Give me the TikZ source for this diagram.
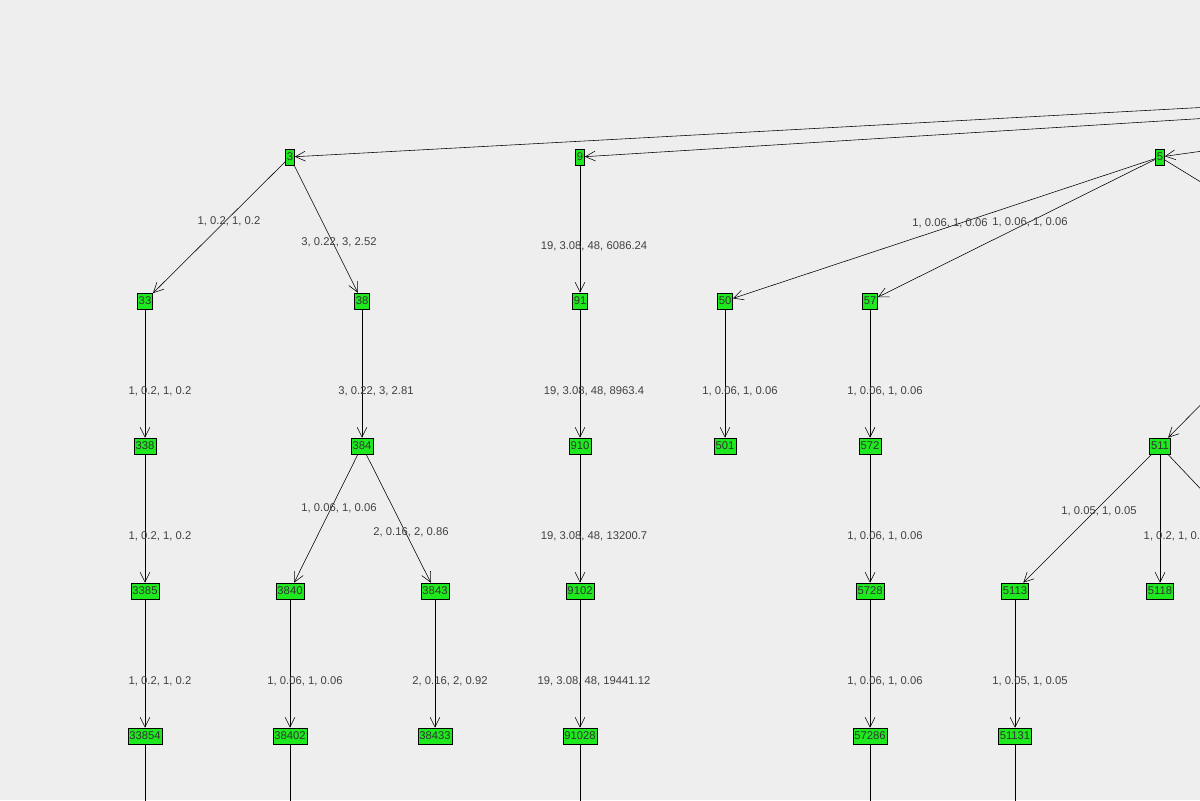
\documentclass[tikz,border=0pt]{standalone}
\usepackage{fontspec}
\setmainfont{Liberation Sans}
\usetikzlibrary{arrows.meta}
\definecolor{bgcol}{HTML}{EEEEEE}
\definecolor{nodegreen}{HTML}{1EE81E}
\begin{document}
\begin{tikzpicture}[x=0.025cm, y=-0.025cm,
	vert/.style={draw, fill=nodegreen, inner sep=1pt, minimum height=16*0.025cm, font=\fontsize{8}{9}\selectfont, text=black!80},
	link/.style={-{Straight Barb[length=7pt, width=7pt]}, thin},
	lab/.style={font=\fontsize{8}{9}\selectfont, text=black!75}]
	% Background and clipping
	\fill[bgcol] (0,0) rectangle (1200,800);
	\clip (0,0) rectangle (1200,800);

	% Vertices
	\node[vert] (n3) at (290,157) {3};
	\node[vert] (n9) at (580,157) {9};
	\node[vert] (n5) at (1160,157) {5};
	\node[vert] (n33) at (145,301) {33};
	\node[vert] (n38) at (362,301) {38};
	\node[vert] (n91) at (580,301) {91};
	\node[vert] (n50) at (725,301) {50};
	\node[vert] (n57) at (870,301) {57};
	\node[vert] (n338) at (145,446) {338};
	\node[vert] (n384) at (362,446) {384};
	\node[vert] (n910) at (580,446) {910};
	\node[vert] (n501) at (725,446) {501};
	\node[vert] (n572) at (870,446) {572};
	\node[vert] (n511) at (1160,446) {511};
	\node[vert] (n3385) at (145,591) {3385};
	\node[vert] (n3840) at (290,591) {3840};
	\node[vert] (n3843) at (435,591) {3843};
	\node[vert] (n9102) at (580,591) {9102};
	\node[vert] (n5728) at (870,591) {5728};
	\node[vert] (n5113) at (1015,591) {5113};
	\node[vert] (n5118) at (1160,591) {5118};
	\node[vert] (n33854) at (145,736) {33854};
	\node[vert] (n38402) at (290,736) {38402};
	\node[vert] (n38433) at (435,736) {38433};
	\node[vert] (n91028) at (580,736) {91028};
	\node[vert] (n57286) at (870,736) {57286};
	\node[vert] (n51131) at (1015,736) {51131};

	% Loose ends outside the view
	\coordinate (r3) at (1210,107);
	\coordinate (r9) at (1210,118);
	\coordinate (r5) at (1210,150);
	\coordinate (r5b) at (1230,200);
	\coordinate (r511) at (1230,375);
	\coordinate (r511b) at (1230,520);
	\foreach \a in {33854,38402,91028,57286,51131}
		\draw (n\a) -- ++(0,80);

	% Edges
	\draw[link] (r3) -- (n3);
	\draw[link] (r9) -- (n9);
	\draw[link] (r5) -- (n5);
	\draw (n5) -- (r5b);
	\draw[link] (r511) -- (n511);
	\draw (n511) -- (r511b);
	\draw[link] (n3) -- (n33);
	\draw[link] (n3) -- (n38);
	\draw[link] (n9) -- (n91);
	\draw[link] (n5) -- (n50);
	\draw[link] (n5) -- (n57);
	\draw[link] (n33) -- (n338);
	\draw[link] (n38) -- (n384);
	\draw[link] (n91) -- (n910);
	\draw[link] (n50) -- (n501);
	\draw[link] (n57) -- (n572);
	\draw[link] (n338) -- (n3385);
	\draw[link] (n384) -- (n3840);
	\draw[link] (n384) -- (n3843);
	\draw[link] (n910) -- (n9102);
	\draw[link] (n572) -- (n5728);
	\draw[link] (n511) -- (n5113);
	\draw[link] (n511) -- (n5118);
	\draw[link] (n3385) -- (n33854);
	\draw[link] (n3840) -- (n38402);
	\draw[link] (n3843) -- (n38433);
	\draw[link] (n9102) -- (n91028);
	\draw[link] (n5728) -- (n57286);
	\draw[link] (n5113) -- (n51131);

	% Edge labels
	\node[lab] (l1) at (229,221) {1, 0.2, 1, 0.2};
	\node[lab] (l2) at (339,242) {3, 0.22, 3, 2.52};
	\node[lab] (l3) at (594,246) {19, 3.08, 48, 6086.24};
	\node[lab] (l4) at (950,223) {1, 0.06, 1, 0.06};
	\node[lab] (l5) at (1030,222) {1, 0.06, 1, 0.06};
	\node[lab] (l6) at (160,391) {1, 0.2, 1, 0.2};
	\node[lab] (l7) at (376,391) {3, 0.22, 3, 2.81};
	\node[lab] (l8) at (594,391) {19, 3.08, 48, 8963.4};
	\node[lab] (l9) at (740,391) {1, 0.06, 1, 0.06};
	\node[lab] (l10) at (885,391) {1, 0.06, 1, 0.06};
	\node[lab] (l11) at (160,536) {1, 0.2, 1, 0.2};
	\node[lab] (l12) at (339,508) {1, 0.06, 1, 0.06};
	\node[lab] (l13) at (411,532) {2, 0.16, 2, 0.86};
	\node[lab] (l14) at (594,536) {19, 3.08, 48, 13200.7};
	\node[lab] (l15) at (885,536) {1, 0.06, 1, 0.06};
	\node[lab] (l16) at (1099,511) {1, 0.05, 1, 0.05};
	\node[lab] (l17) at (1175,536) {1, 0.2, 1, 0.2};
	\node[lab] (l18) at (160,681) {1, 0.2, 1, 0.2};
	\node[lab] (l19) at (305,681) {1, 0.06, 1, 0.06};
	\node[lab] (l20) at (450,681) {2, 0.16, 2, 0.92};
	\node[lab] (l21) at (594,681) {19, 3.08, 48, 19441.12};
	\node[lab] (l22) at (885,681) {1, 0.06, 1, 0.06};
	\node[lab] (l23) at (1030,681) {1, 0.05, 1, 0.05};
\end{tikzpicture}
\end{document}
